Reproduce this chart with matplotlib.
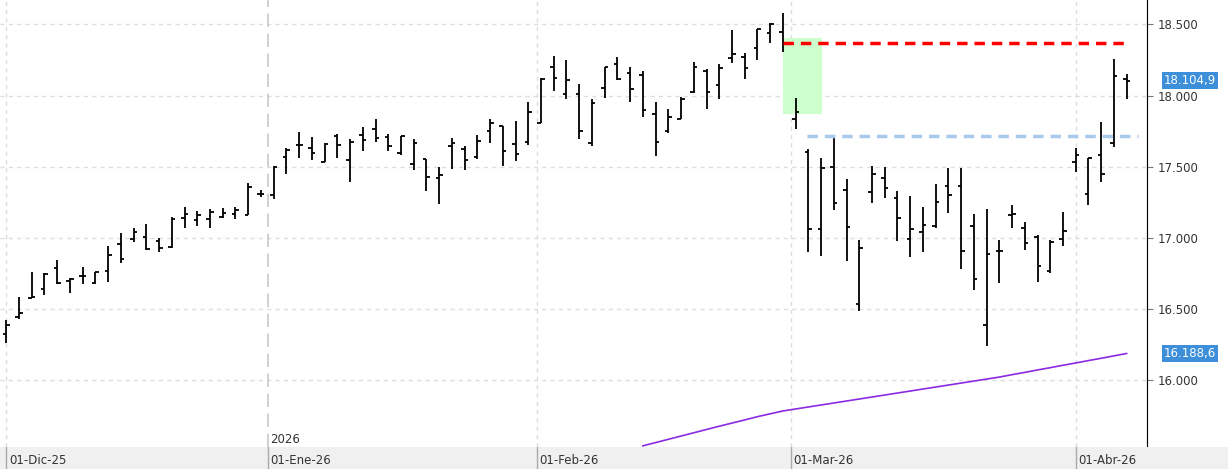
import matplotlib
matplotlib.use("Agg")
import matplotlib.pyplot as plt
import numpy as np
from matplotlib.patches import Rectangle

# pixel readings converted to values
def pv(y):
    return 18500 - (y / 3 - 24.3) * 7.022

H = [960,890,816,820,780,833,801,815,738,699,684,672,714,652,621,633,627,624,621,549,570,499,444,
     396,411,430,403,418,381,357,403,409,418,478,500,415,439,405,357,378,363,306,
     233,168,180,253,297,202,171,201,213,306,327,292,186,208,193,90,159,87,70,40,295,
     448,475,413,538,720,498,501,574,588,621,552,504,505,642,627,720,615,666,705,720,636,445,475,366,177,222]
L = [1030,958,895,886,853,878,853,853,845,788,725,750,755,745,683,677,683,653,656,645,592,596,523,
     473,479,487,473,545,452,425,452,464,509,572,611,506,509,476,428,497,482,434,
     370,272,296,418,437,293,240,305,350,467,398,358,280,326,296,190,236,180,128,155,386,
     755,767,630,782,932,608,593,722,770,755,683,638,806,869,1037,848,683,749,845,818,737,515,614,545,440,296]
O = [1002,952,895,868,804,843,829,848,814,733,717,712,723,742,655,660,657,652,642,644,581,586,471,
     436,444,485,409,481,406,387,412,460,493,478,535,439,448,472,394,378,433,427,
     370,202,283,283,430,265,192,219,226,343,394,356,277,213,256,175,172,145,100,97,357,
     457,688,502,571,912,577,535,595,718,697,677,559,559,679,975,754,646,685,712,812,718,487,583,465,430,238]
C = [975,940,892,822,848,837,829,817,766,777,696,748,743,657,642,646,636,639,631,562,581,501,451,
     436,460,433,436,427,421,415,439,409,430,532,526,430,481,424,370,454,463,337,
     238,235,241,394,310,202,236,268,330,427,352,298,202,277,205,162,205,88,72,130,337,
     688,505,609,682,745,523,565,655,688,676,607,586,754,838,763,754,643,730,799,726,693,466,475,522,229,241]
highs = [pv(v) for v in H]; lows = [pv(v) for v in L]
opens = [pv(v) for v in O]; closes = [pv(v) for v in C]
closes[-1] = 18104.9

ma_start = 50
ma_vals = [15540,15563,15586,15609,15632,15655,15678,15700,15722,15745,15765,15785,
           15799,15813,15827,15841,15855,15869,15883,15897,15911,15925,15939,15953,15967,15981,15995,16009,
           16023,16040,16056,16073,16089,16106,16122,16139,16155,16172,16188.6]

month_pos = [0, 20.56, 41.7, 61.6, 84.0]
month_labels = ["01-Dic-25", "01-Ene-26", "01-Feb-26", "01-Mar-26", "01-Abr-26"]
yticks = [16000, 16500, 17000, 17500, 18000, 18500]
ytick_labels = ["16.000", "16.500", "17.000", "17.500", "18.000", "18.500"]
red_level = 18369
blue_level = 17715

fig = plt.figure(figsize=(12.28, 4.69), dpi=100)
ax = fig.add_axes([0, 22/469, 1147/1228, 447/469])
n = len(highs)
x = np.arange(n)
ax.set_xlim(-0.495, 89.6)
ax.set_ylim(15532, 18671)
for yt in yticks:
    ax.axhline(yt, color="#dddddd", ls=(0, (3, 3)), lw=1, zorder=0)
for i, mp in enumerate(month_pos):
    if i == 1:
        ax.axvline(mp, color="#c8c8c8", ls=(0, (8, 4)), lw=1.2, zorder=0)
    elif i > 0:
        ax.axvline(mp, color="#dddddd", ls=(0, (3, 3)), lw=1, zorder=0)
ax.axvline(0, color="#dddddd", ls=(0, (3, 3)), lw=1, zorder=0)

ax.add_patch(Rectangle((61, 17868), 3.08, 18404 - 17868, color="#ccffcc", zorder=1, lw=0))
ax.vlines(x, lows, highs, color="black", lw=1.3, zorder=3)
ax.hlines(opens, x - 0.28, x, color="black", lw=1.3, zorder=3)
ax.hlines(closes, x, x + 0.28, color="black", lw=1.3, zorder=3)
ax.plot(np.arange(ma_start, ma_start + len(ma_vals)), ma_vals, color="#8a2be2", lw=1.2, zorder=2)
ax.plot([61, 88.05], [red_level, red_level], color="red", lw=2.5, ls=(0, (3, 2)), zorder=4)
ax.plot([62.9, 88.9], [blue_level, blue_level], color="#a8c8ec", lw=2.5, ls=(0, (3, 2)), zorder=4)

ax.text(20.7, 15560, "2026", fontsize=8.5, color="#333333")
ax.set_xticks([]); ax.set_yticks([])
for s in ["top", "left", "bottom"]:
    ax.spines[s].set_visible(False)
ax.spines["right"].set_color("#777777")

# right axis labels
ax2 = ax.twinx()
ax2.set_ylim(ax.get_ylim())
ax2.set_yticks(yticks)
ax2.set_yticklabels(ytick_labels, fontsize=8.5, color="#333333")
ax2.tick_params(length=4, color="#777777")
for s in ["top", "left", "bottom"]:
    ax2.spines[s].set_visible(False)
for val, txt in [(closes[-1], "18.104,9"), (ma_vals[-1], "16.188,6")]:
    ax2.annotate(txt, xy=(1, val), xycoords=("axes fraction", "data"), xytext=(12, 0),
                 textcoords="offset points", fontsize=8.5, color="white", va="center",
                 bbox=dict(boxstyle="square,pad=0.15", fc="#3c8fd8", ec="none"))

# bottom date strip
bx = fig.add_axes([0, 0, 1147/1228, 22/469])
bx.set_xlim(ax.get_xlim()); bx.set_ylim(0, 1)
bx.set_facecolor("#f0f0f0")
for mp, lab in zip(month_pos, month_labels):
    bx.axvline(mp, color="#aaaaaa", lw=1)
    bx.text(mp + 0.2, 0.4, lab, fontsize=8.5, va="center", color="#333333")
bx.set_xticks([]); bx.set_yticks([])
for s in bx.spines.values():
    s.set_visible(False)
fig.patches.append(Rectangle((1147/1228, 0), 81/1228, 22/469, transform=fig.transFigure,
                             fc="#f0f0f0", ec="none"))
fig.savefig("out.png", dpi=100)
